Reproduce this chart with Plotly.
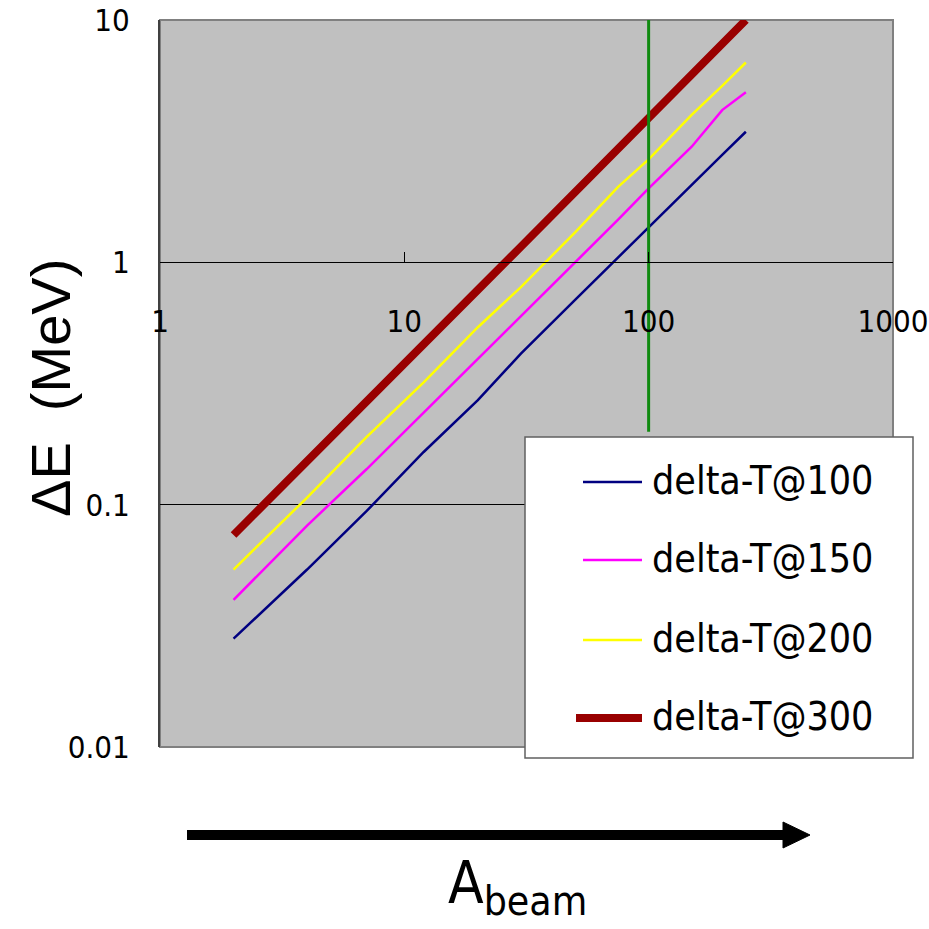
import plotly.graph_objects as go

# Beam mass number A and energy spread dE (MeV) for each delta-T setting
a_beam = [2, 4, 7, 12, 20, 30, 50, 75, 100, 150, 200, 250]
de_t100 = [0.028, 0.054, 0.094, 0.165, 0.27, 0.42, 0.70, 1.05, 1.40, 2.08, 2.78, 3.46]
de_t150 = [0.0405, 0.082, 0.14, 0.24, 0.40, 0.60, 1.00, 1.50, 2.02, 3.0, 4.25, 5.03]
de_t200 = [0.054, 0.107, 0.19, 0.32, 0.54, 0.79, 1.33, 2.05, 2.66, 4.06, 5.35, 6.68]
de_t300 = [0.075, 0.15, 0.265, 0.46, 0.77, 1.16, 1.95, 2.95, 3.95, 5.95, 7.95, 10.0]

series_names = ["delta-T@100", "delta-T@150", "delta-T@200", "delta-T@300"]
series_values = [de_t100, de_t150, de_t200, de_t300]
series_colors = ["#000080", "#FF00FF", "#FFFF00", "#990000"]
series_widths = [2.5, 2.5, 2.5, 8]

# vertical marker at A = 100
marker_x = [100, 100]
marker_y = [0.2, 10]

x_ticks = [1, 10, 100, 1000]
x_tick_text = ["1", "10", "100", "1000"]
y_ticks = [0.01, 0.1, 1, 10]
y_tick_text = ["0.01", "0.1", "1", "10"]

W, H = 929, 929
ML, MR, MT, MB = 160, 36, 20, 182
PW, PH = W - ML - MR, H - MT - MB


def px(x):
    return (x - ML) / PW


def py(y):
    return (H - MB - y) / PH


NARROW = "DejaVu Sans Condensed, Liberation Sans Narrow, sans-serif"

fig = go.Figure()

for name, vals, col, w in zip(series_names, series_values, series_colors, series_widths):
    fig.add_trace(go.Scatter(x=a_beam, y=vals, mode="lines", name=name,
                             line=dict(color=col, width=w), showlegend=False))

fig.add_trace(go.Scatter(x=marker_x, y=marker_y, mode="lines",
                         line=dict(color="#108A10", width=3), showlegend=False))

fig.update_layout(
    width=W, height=H,
    margin=dict(l=ML, r=MR, t=MT, b=MB, autoexpand=False),
    paper_bgcolor="white",
    plot_bgcolor="#C0C0C0",
    xaxis=dict(
        type="log", range=[0, 3.0002], anchor="free", position=2 / 3,
        automargin=False,
        tickvals=x_ticks, ticktext=x_tick_text,
        ticks="inside", ticklen=10, tickcolor="black", tickwidth=1,
        showline=True, linecolor="black", linewidth=1,
        showgrid=False, zeroline=False,
        ticklabelstandoff=31,
        tickfont=dict(family=NARROW, size=31, color="black"),
    ),
    yaxis=dict(
        type="log", range=[-2, 1.0002],
        automargin=False,
        tickvals=y_ticks, ticktext=y_tick_text,
        ticks="inside", ticklen=9, tickcolor="black", tickwidth=1,
        showline=True, linecolor="#404040", linewidth=2,
        showgrid=True, gridcolor="black", gridwidth=1,
        zeroline=False,
        ticklabelstandoff=22,
        tickfont=dict(family=NARROW, size=31, color="black"),
    ),
)

shapes = []
# plot frame
shapes.append(dict(type="rect", xref="paper", yref="paper", x0=0, x1=1, y0=0, y1=1,
                   line=dict(color="#808080", width=2), layer="between"))

# legend box
shapes.append(dict(type="rect", xref="paper", yref="paper",
                   x0=px(525), x1=px(913), y0=py(758), y1=py(437),
                   fillcolor="white", line=dict(color="#606060", width=1.5), layer="above"))
legend_rows = [482, 560, 640, 718]
annotations = []
for name, col, w, yrow in zip(series_names, series_colors, series_widths, legend_rows):
    shapes.append(dict(type="line", xref="paper", yref="paper",
                       x0=px(583 if w < 5 else 576), x1=px(642), y0=py(yrow), y1=py(yrow),
                       line=dict(color=col, width=w), layer="above"))
    annotations.append(dict(xref="paper", yref="paper", x=px(650), y=py(yrow - 2),
                            xanchor="left", yanchor="middle", showarrow=False,
                            text=name, font=dict(family=NARROW, size=39, color="black")))

# A_beam direction arrow
shapes.append(dict(type="line", xref="paper", yref="paper",
                   x0=px(187), x1=px(790), y0=py(835), y1=py(835),
                   line=dict(color="black", width=10)))
shapes.append(dict(type="path", xref="paper", yref="paper",
                   path=f"M {px(783)} {py(822)} L {px(810)} {py(835)} L {px(783)} {py(848)} Z",
                   fillcolor="black", line=dict(color="black", width=1)))

annotations.append(dict(xref="paper", yref="paper", x=px(446), y=py(887),
                        xanchor="left", yanchor="middle", showarrow=False,
                        text="A<sub>beam</sub>",
                        font=dict(family=NARROW, size=58, color="black")))
annotations.append(dict(xref="paper", yref="paper", x=px(50), y=py(388),
                        xanchor="center", yanchor="middle", showarrow=False, textangle=-90,
                        text="\u0394E\u00a0\u00a0(MeV)",
                        font=dict(family="Liberation Sans, Arial, sans-serif", size=56, color="black")))

fig.update_layout(shapes=shapes, annotations=annotations)

fig.write_html("out.html")
